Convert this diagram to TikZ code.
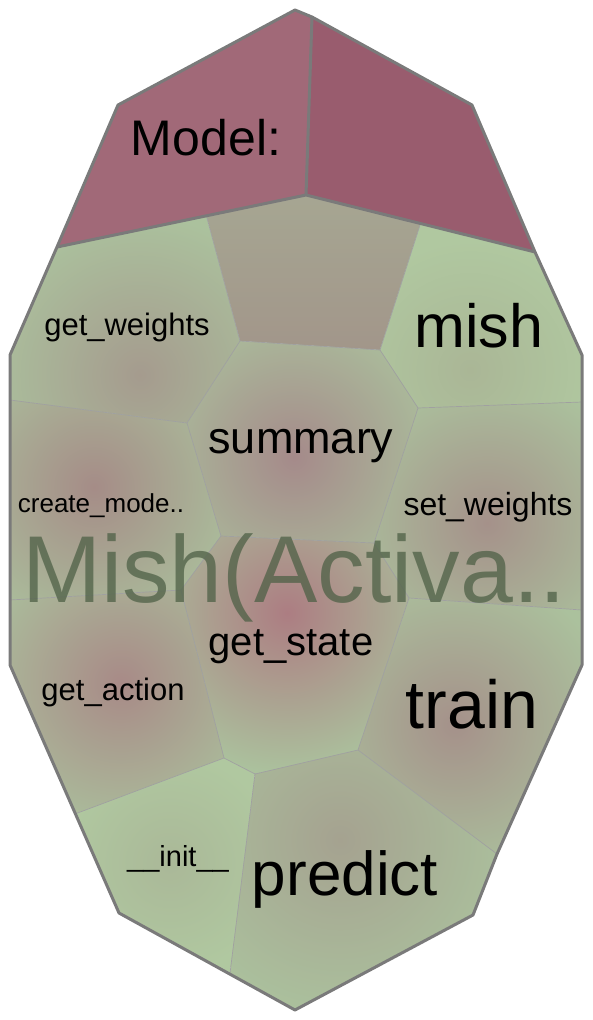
\documentclass[tikz,border=0pt]{standalone}
\usepackage{fontspec}
\setmainfont{Liberation Sans}
\usetikzlibrary{calc}

\definecolor{leaf}{RGB}{171,193,157}
\definecolor{leaflight}{RGB}{176,200,160}
\definecolor{modelL}{RGB}{161,105,120}
\definecolor{modelR}{RGB}{153,92,110}
\definecolor{edgegray}{RGB}{160,160,160}
\definecolor{rimgray}{RGB}{122,122,122}
\definecolor{bigtext}{RGB}{78,96,70}

% one cell: clip to it, base fill, then a soft glow
\newcommand{\glowcell}[5]{%
  \begin{scope}
    \clip #1 -- cycle;
    \fill[#5] #1 -- cycle;
    \shade[inner color=#4,outer color=#5] #2 circle (#3);
  \end{scope}}

\begin{document}
\begin{tikzpicture}[x=1pt,y=-1pt,
  lbl/.style={inner sep=0pt,anchor=base,font=\fontsize{#1}{#1}\selectfont},
  seam/.style={draw=edgegray,line width=0.7pt},
  rim/.style={draw=rimgray,line width=3pt,line join=round}]
  \useasboundingbox (0,0) rectangle (592,1020);

  % Outer hull
  \coordinate (o1) at (295,10);
  \coordinate (o2) at (312,17);
  \coordinate (o3) at (472,105);
  \coordinate (o4) at (535,252);
  \coordinate (o5) at (582,355);
  \coordinate (o6) at (582,665);
  \coordinate (o7) at (497,854);
  \coordinate (o8) at (473,915);
  \coordinate (o9) at (295,1010);
  \coordinate (o10) at (119,913);
  \coordinate (o12) at (10,665);
  \coordinate (o13) at (10,355);
  \coordinate (o14) at (57,247);
  \coordinate (o15) at (118,105);
  \coordinate (m1) at (306,195);

  % Inner vertices
  \coordinate (a) at ($(o14)!0.6!(m1)$);
  \coordinate (b) at ($(m1)!0.5!(o4)$);
  \coordinate (c1) at (240,341);
  \coordinate (c2) at (380,350);
  \coordinate (c3) at (418,408);
  \coordinate (c4) at (187,423);
  \coordinate (c5) at (221,536);
  \coordinate (c6) at (374,543);
  \coordinate (c7) at (409,598);
  \coordinate (c8) at (181,590);
  \coordinate (c9) at (224,758);
  \coordinate (c10) at (255,774);
  \coordinate (c11) at (358,750);
  \coordinate (e1) at (10,400);
  \coordinate (e2) at (582,402);
  \coordinate (e3) at (10,600);
  \coordinate (e4) at (582,610);
  \coordinate (e5) at ($(o12)!0.6!(o10)$);
  \coordinate (e6) at ($(o10)!0.63!(o9)$);

  % Model: (two halves)
  \fill[modelL] (o1) -- (o2) -- (m1) -- (o14) -- (o15) -- cycle;
  \fill[modelR] (o2) -- (o3) -- (o4) -- (m1) -- cycle;

  % Unnamed top cell
  \shade[top color={rgb,255:red,166;green,166;blue,146},bottom color={rgb,255:red,162;green,150;blue,138}]
    (a) -- (m1) -- (b) -- (c2) -- (c1) -- cycle;

  % Method cells
  \glowcell{(o14) -- (a) -- (c1) -- (c4) -- (e1) -- (o13)}{(140,375)}{160pt}{{rgb,255:red,165;green,155;blue,142}}{leaf}
  \glowcell{(b) -- (o4) -- (o5) -- (e2) -- (c3) -- (c2)}{(470,370)}{130pt}{{rgb,255:red,170;green,182;blue,150}}{leaflight}
  \glowcell{(c1) -- (c2) -- (c3) -- (c6) -- (c5) -- (c4)}{(294,457)}{160pt}{{rgb,255:red,165;green,138;blue,138}}{leaf}
  \glowcell{(e1) -- (c4) -- (c5) -- (c8) -- (e3)}{(94,487)}{160pt}{{rgb,255:red,165;green,140;blue,135}}{leaf}
  \glowcell{(c3) -- (e2) -- (e4) -- (c7) -- (c6)}{(487,523)}{150pt}{{rgb,255:red,165;green,145;blue,138}}{leaf}
  \glowcell{(c5) -- (c6) -- (c7) -- (c11) -- (c10) -- (c9) -- (c8)}{(287,613)}{160pt}{{rgb,255:red,172;green,125;blue,130}}{leaf}
  \glowcell{(e3) -- (c8) -- (c9) -- (e5) -- (o12)}{(121,683)}{160pt}{{rgb,255:red,168;green,138;blue,135}}{leaf}
  \glowcell{(c7) -- (e4) -- (o6) -- (o7) -- (c11)}{(455,725)}{160pt}{{rgb,255:red,165;green,145;blue,138}}{leaf}
  \glowcell{(e5) -- (c9) -- (c10) -- (e6) -- (o10)}{(170,863)}{110pt}{{rgb,255:red,170;green,184;blue,152}}{leaflight}
  \glowcell{(c10) -- (c11) -- (o7) -- (o8) -- (o9) -- (e6)}{(340,840)}{180pt}{{rgb,255:red,165;green,162;blue,144}}{leaf}

  % Thin seams between cells
  \draw[seam] (a) -- (c1) -- (c4) -- (e1);
  \draw[seam] (b) -- (c2) -- (c3) -- (e2);
  \draw[seam] (c1) -- (c2);
  \draw[seam] (c4) -- (c5) -- (c6) -- (c3);
  \draw[seam] (c6) -- (c7) -- (e4);
  \draw[seam] (e3) -- (c8) -- (c5);
  \draw[seam] (c8) -- (c9) -- (e5);
  \draw[seam] (c9) -- (c10) -- (e6);
  \draw[seam] (c10) -- (c11) -- (c7);
  \draw[seam] (c11) -- (o7);

  % Thick rims
  \draw[rim] (o14) -- (m1) -- (o4);
  \draw[rim] (o2) -- (m1);
  \draw[rim] (o1) -- (o2) -- (o3) -- (o4) -- (o5) -- (o6) -- (o7) -- (o8) -- (o9)
    -- (o10) -- (o12) -- (o13) -- (o14) -- (o15) -- cycle;

  % Labels
  \node[lbl=95,text=bigtext,text opacity=0.75] (lParent) at (294,602) {Mish(Activa..};
  \node[lbl=50] (lModel) at (206,155) {Model:};
  \node[lbl=61] (lMish) at (479,347) {mish};
  \node[lbl=31] (lGetW) at (127,335) {get\_weights};
  \node[lbl=45] (lSummary) at (301,453) {summary};
  \node[lbl=26] (lCreate) at (101,512) {create\_mode..};
  \node[lbl=32] (lSetW) at (488,515) {set\_weights};
  \node[lbl=40] (lState) at (291,655) {get\_state};
  \node[lbl=31] (lAction) at (113,700) {get\_action};
  \node[lbl=68] (lTrain) at (472,728) {train};
  \node[lbl=29] (lInit) at (178,866) {\_\_init\_\_};
  \node[lbl=62] (lPredict) at (345,895) {predict};
\end{tikzpicture}
\end{document}
